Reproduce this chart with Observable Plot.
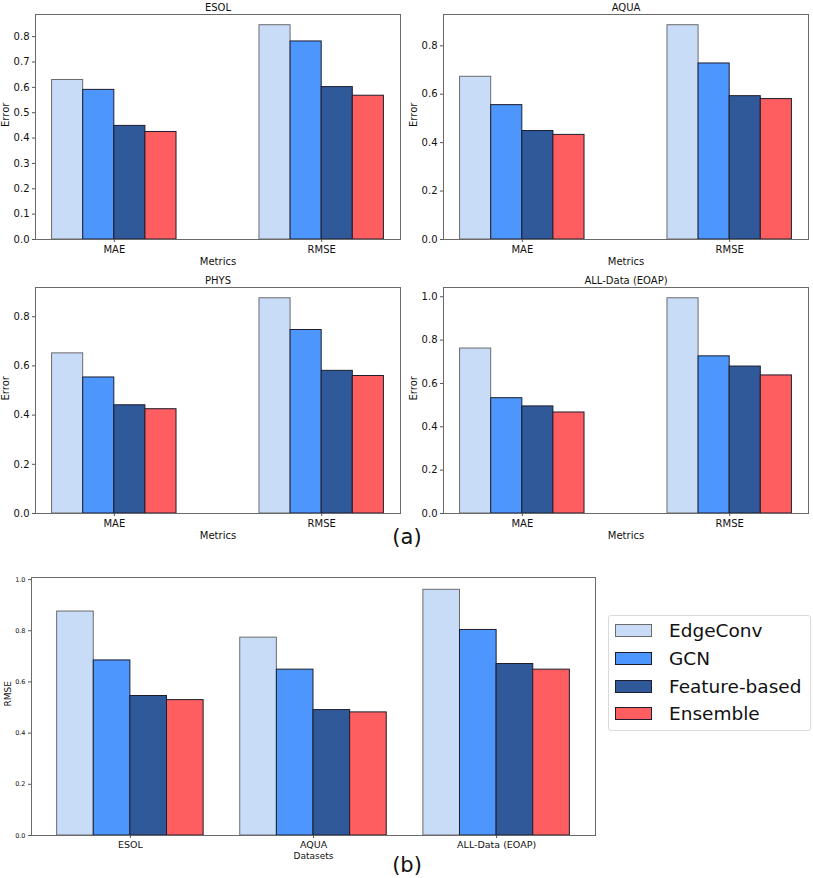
<!DOCTYPE html>
<html><head><meta charset="utf-8">
<script src="https://cdn.jsdelivr.net/npm/d3@7"></script>
<script src="https://cdn.jsdelivr.net/npm/@observablehq/plot@0.6"></script>
<style>
body{margin:0;background:#fff;font-family:"DejaVu Sans",sans-serif;}
#root{position:relative;width:813px;height:878px;overflow:hidden;background:#fff;}
.abs{position:absolute;}
.tag{position:absolute;width:60px;text-align:center;font-size:21px;line-height:21px;font-family:"DejaVu Sans",sans-serif;color:#111;}
</style></head><body><div id="root"></div>
<script>
const models = ["EdgeConv", "GCN", "Feature-based", "Ensemble"];
const metrics = ["MAE", "RMSE"];
const datasets = ["ESOL", "AQUA", "ALL-Data (EOAP)"];
const colors = ["#c8dcf8", "#4d96fd", "#30599a", "#fe5e5f"];
const edges = ["#6b6b6b", "#1d1d2d", "#1d1d2d", "#1d1d2d"];

// (a) per-dataset MAE / RMSE, order: EdgeConv, GCN, Feature-based, Ensemble
const esolMAE = [0.629, 0.590, 0.448, 0.424];
const esolRMSE = [0.845, 0.781, 0.601, 0.567];
const aquaMAE = [0.672, 0.555, 0.448, 0.432];
const aquaRMSE = [0.885, 0.727, 0.592, 0.580];
const physMAE = [0.651, 0.553, 0.440, 0.424];
const physRMSE = [0.875, 0.746, 0.580, 0.559];
const allMAE = [0.761, 0.532, 0.494, 0.466];
const allRMSE = [0.993, 0.725, 0.678, 0.637];

// (b) RMSE per dataset
const rmseESOL = [0.875, 0.684, 0.545, 0.529];
const rmseAQUA = [0.773, 0.648, 0.490, 0.481];
const rmseALL = [0.960, 0.803, 0.670, 0.648];

const ticks01 = [0, 0.1, 0.2, 0.3, 0.4, 0.5, 0.6, 0.7, 0.8];
const ticks02to08 = [0, 0.2, 0.4, 0.6, 0.8];
const ticks02to10 = [0, 0.2, 0.4, 0.6, 0.8, 1.0];

const root = document.getElementById("root");

function groupedBars(o) {
  const rows = [];
  o.series.forEach((vals, g) => vals.forEach((v, m) => rows.push({
    g, m, model: models[m], value: v,
    x1: g + (m - 2) * o.barW, x2: g + (m - 1) * o.barW
  })));
  const nG = o.groups.length;
  const span = nG - 1 + 4 * o.barW;
  const xlo = -2 * o.barW - 0.05 * span, xhi = nG - 1 + 2 * o.barW + 0.05 * span;
  const ymax = d3.max(rows, d => d.value) * 1.05;
  const marks = [
    Plot.rectY(rows.filter(d => d.m === 0), {x1: "x1", x2: "x2", y: "value", fill: "model", stroke: edges[0], strokeWidth: 1}),
    Plot.rectY(rows.filter(d => d.m !== 0), {x1: "x1", x2: "x2", y: "value", fill: "model", stroke: edges[1], strokeWidth: 1}),
    Plot.frame({stroke: "#6a6a6a", strokeWidth: 1}),
    Plot.axisY({ticks: o.ticks, tickFormat: d3.format(".1f"), tickSize: 3, tickPadding: 3, stroke: "#555", fill: "#111", fontSize: o.yTickFs, label: null}),
    Plot.axisX({ticks: d3.range(nG), tickFormat: i => o.groups[i], tickSize: 3, tickPadding: 3, stroke: "#555", fill: "#111", fontSize: o.xTickFs, label: null}),
    Plot.text([o.xLabel], {text: d => d, frameAnchor: "bottom", lineAnchor: "middle", dy: o.xLabelDy, fontSize: o.labelFs, fill: "#111"}),
    Plot.text([o.yLabel], {text: d => d, frameAnchor: "left", lineAnchor: "middle", rotate: -90, dx: o.yLabelDx, fontSize: o.yLabelFs || o.labelFs, fill: "#111"})
  ];
  if (o.title) marks.push(Plot.text([o.title], {text: d => d, frameAnchor: "top", lineAnchor: "middle", dy: -7, fontSize: o.labelFs, fill: "#111"}));
  const svg = Plot.plot({
    width: o.width, height: o.height,
    marginLeft: o.mL, marginRight: o.mR, marginTop: o.mT, marginBottom: o.mB,
    style: {fontFamily: "DejaVu Sans", fontSize: o.labelFs + "px", color: "#111", background: "transparent", overflow: "visible"},
    x: {domain: [xlo, xhi]},
    y: {domain: [0, ymax]},
    color: {domain: models, range: colors},
    marks
  });
  svg.classList.add("abs");
  svg.style.left = o.left + "px";
  svg.style.top = o.top + "px";
  root.appendChild(svg);
}

const topCommon = {groups: metrics, barW: 0.15, xLabel: "Metrics", yLabel: "Error",
  yTickFs: 10, xTickFs: 10, labelFs: 10, yLabelDx: -30, xLabelDy: 22.5, height: 270, mR: 5, mT: 14};

groupedBars({...topCommon, title: "ESOL", series: [esolMAE, esolRMSE], ticks: ticks01,
  left: 0, top: 0, width: 405, mL: 35, mB: 31});
groupedBars({...topCommon, title: "AQUA", series: [aquaMAE, aquaRMSE], ticks: ticks02to08,
  left: 405, top: 0, width: 408, mL: 38, mB: 31});
groupedBars({...topCommon, title: "PHYS", series: [physMAE, physRMSE], ticks: ticks02to08,
  left: 0, top: 273, width: 405, mL: 35, mB: 30});
groupedBars({...topCommon, title: "ALL-Data (EOAP)", series: [allMAE, allRMSE], ticks: ticks02to10,
  left: 405, top: 273, width: 408, mL: 38, mB: 30});

// (b): RMSE grouped by dataset
groupedBars({groups: datasets, barW: 0.2, xLabel: "Datasets", yLabel: "RMSE", title: null,
  series: [rmseESOL, rmseAQUA, rmseALL], ticks: ticks02to10,
  yTickFs: 6.5, xTickFs: 9.5, labelFs: 9, yLabelFs: 9, yLabelDx: -23, xLabelDy: 21,
  left: 0, top: 560, width: 600, height: 318, mL: 31, mR: 5, mT: 17, mB: 43});

// panel tags
const ta = document.createElement("div"); ta.className = "tag"; ta.textContent = "(a)";
ta.style.left = "377px"; ta.style.top = "527px"; root.appendChild(ta);
const tb = document.createElement("div"); tb.className = "tag"; tb.textContent = "(b)";
tb.style.left = "377px"; tb.style.top = "855px"; root.appendChild(tb);

// legend
const lg = document.createElement("div");
lg.className = "abs";
Object.assign(lg.style, {left: "608px", top: "615px", width: "201px", height: "114px",
  border: "1px solid #dadada", borderRadius: "3px", background: "#fff"});
models.forEach((m, i) => {
  const cy = 15 + i * 27.8;
  const sw = document.createElement("div");
  Object.assign(sw.style, {position: "absolute", left: "6px", top: (cy - 7) + "px", width: "37px", height: "13px",
    background: colors[i], border: "1px solid " + edges[i], boxSizing: "border-box"});
  const tx = document.createElement("div");
  Object.assign(tx.style, {position: "absolute", left: "60px", top: (cy - 12) + "px", height: "24px", lineHeight: "24px",
    fontSize: "18.5px", color: "#111", whiteSpace: "nowrap", fontFamily: "DejaVu Sans"});
  tx.textContent = m;
  lg.appendChild(sw); lg.appendChild(tx);
});
root.appendChild(lg);
</script>
</body></html>
